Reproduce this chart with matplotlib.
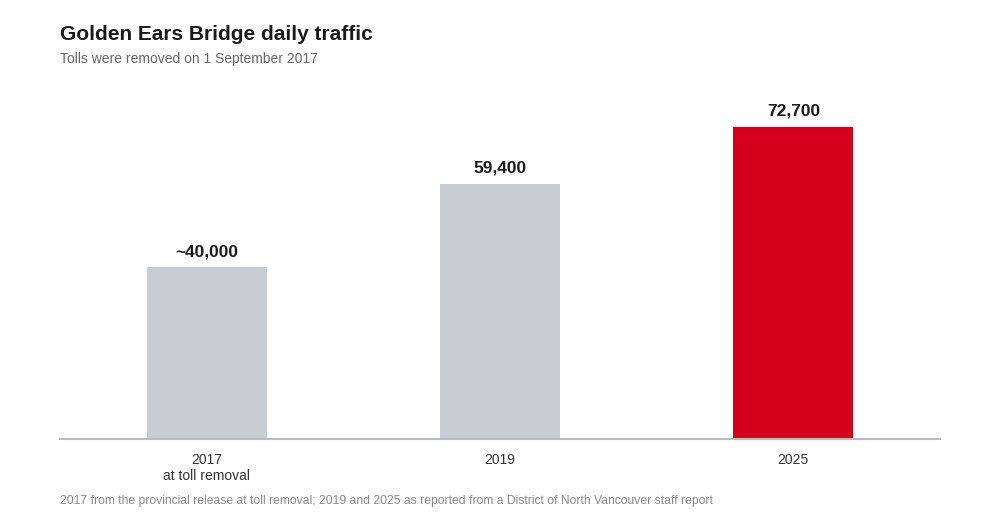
import numpy as np
import matplotlib.pyplot as plt

plt.rcParams['font.family'] = ['Liberation Sans', 'DejaVu Sans']

years = ['2017\nat toll removal', '2019', '2025']
traffic = [40000, 59400, 72700]
value_labels = ['~40,000', '59,400', '72,700']
bar_colors = ['#c9cdd1', '#c9cdd1', '#d5001c']

fig = plt.figure(figsize=(10, 5.2), dpi=100)
ax = fig.add_axes([0.06, 1 - 439 / 520, 0.88, (439 - 90) / 520])

x = np.arange(len(traffic))
ax.bar(x, traffic, width=0.41, color=bar_colors, zorder=2)
for xi, v, lab in zip(x, traffic, value_labels):
    ax.annotate(lab, (xi, v), xytext=(0, 6), textcoords='offset points',
                ha='center', va='bottom', fontsize=12.5, fontweight='bold', color='#1a1a1a')

ax.set_xlim(-0.5, 2.5)
ax.set_ylim(0, 81350)
ax.set_yticks([])
ax.set_xticks(x)
ax.set_xticklabels(years, fontsize=10, color='#333333', linespacing=1.2)
ax.tick_params(axis='x', length=0, pad=10)
for s in ['top', 'right', 'left']:
    ax.spines[s].set_visible(False)
ax.spines['bottom'].set_color('#bbbbbb')
ax.spines['bottom'].set_linewidth(1.5)

fig.text(0.06, 1 - 34 / 520, 'Golden Ears Bridge daily traffic', fontsize=15,
         fontweight='bold', color='#1a1a1a', va='center', ha='left')
fig.text(0.06, 1 - 59 / 520, 'Tolls were removed on 1 September 2017', fontsize=10,
         color='#666666', va='center', ha='left')
fig.text(0.06, 1 - 501 / 520,
         '2017 from the provincial release at toll removal; 2019 and 2025 as reported from a District of North Vancouver staff report',
         fontsize=8.7, color='#8a8a8a', va='center', ha='left')

fig.savefig('out.png', dpi=100)
